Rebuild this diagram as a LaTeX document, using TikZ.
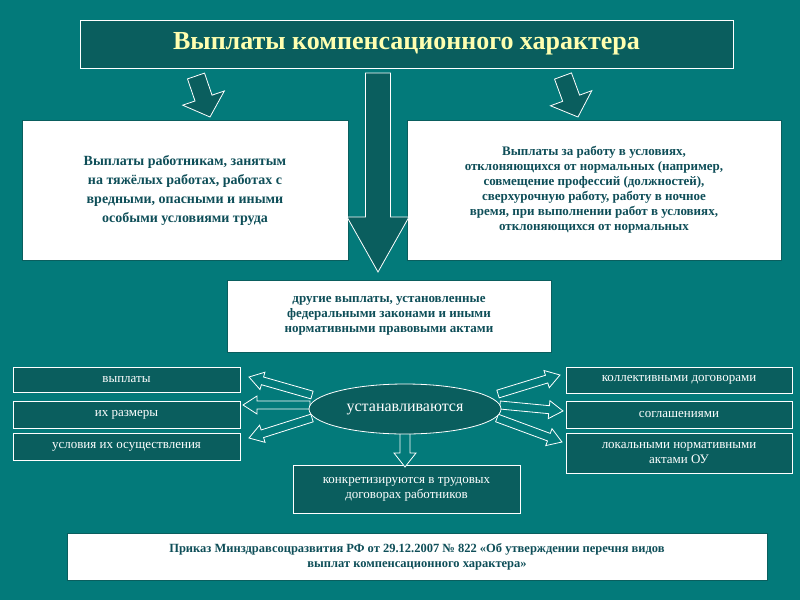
\documentclass[tikz,border=0pt]{standalone}
\usepackage{fontspec}
\setmainfont{Liberation Serif}
\usetikzlibrary{positioning,shapes.geometric}
\definecolor{bgteal}{HTML}{037A7A}
\definecolor{darkteal}{HTML}{0A5E5E}
\definecolor{inkteal}{HTML}{0E4E58}
\definecolor{titleyellow}{HTML}{FFFFB0}
% block arrow: style, x1, y1, x2, y2, half shaft, half head, head length
\newcommand{\barrow}[8]{%
  \pgfmathsetmacro{\dx}{#4-#2}
  \pgfmathsetmacro{\dy}{#5-#3}
  \pgfmathsetmacro{\l}{1.0/veclen(\dx,\dy)}
  \pgfmathsetmacro{\ux}{\dx*\l}
  \pgfmathsetmacro{\uy}{\dy*\l}
  \pgfmathsetmacro{\bx}{#4-\ux*#8}
  \pgfmathsetmacro{\by}{#5-\uy*#8}
  \draw[#1] (#2-\uy*#6,#3+\ux*#6) -- (\bx-\uy*#6,\by+\ux*#6)
    -- (\bx-\uy*#7,\by+\ux*#7) -- (#4,#5) -- (\bx+\uy*#7,\by-\ux*#7)
    -- (\bx+\uy*#6,\by-\ux*#6) -- (#2+\uy*#6,#3-\ux*#6) -- cycle;}
\tikzset{
  whitebox/.style={draw=darkteal,fill=white,text=inkteal,font=\bfseries\fontsize{13}{15}\selectfont,align=center,inner sep=2pt},
  tealbox/.style={draw=white,fill=darkteal,text=white,font=\fontsize{13}{15}\selectfont,align=center,inner sep=2pt},
  bigarr/.style={draw=white,fill=darkteal,thick},
  smallarr/.style={draw=white,fill=bgteal,thick}
}
\begin{document}
\begin{tikzpicture}[x=1pt,y=-1pt]
  \fill[bgteal] (0,0) rectangle (800,600);
  \useasboundingbox (0,0) rectangle (800,600);

  \node[tealbox,minimum width=653,minimum height=48,font=\bfseries\fontsize{26}{30}\selectfont,text=titleyellow] (title) at (406.5,44) {Выплаты компенсационного характера};

  \node[whitebox,minimum width=326,minimum height=140,font=\bfseries\fontsize{14}{19}\selectfont] (heavy) at (185,190)
    {Выплаты работникам, занятым\\на тяжёлых работах, работах с\\вредными, опасными и иными\\особыми условиями труда};
  \node[whitebox,minimum width=374,minimum height=140] (abnorm) at (594,190)
    {Выплаты за работу в условиях,\\отклоняющихся от нормальных (например,\\совмещение профессий (должностей),\\сверхурочную работу, работу в ночное\\время, при выполнении работ в условиях,\\отклоняющихся от нормальных};
  \node[whitebox,minimum width=324,minimum height=72] (other) at (389,316)
    {другие выплаты,  установленные\\федеральными законами и иными\\нормативными правовыми актами};

  \barrow{bigarr}{378}{73}{378}{272}{12.5}{31}{55}
  \barrow{bigarr}{196}{76}{210}{117}{9}{22}{20}
  \barrow{bigarr}{563}{76}{578}{117}{9}{22}{20}

  \node[tealbox,minimum width=227,minimum height=25] (pay) at (126.5,380) {выплаты};
  \node[tealbox,minimum width=227,minimum height=27] (size) at (126.5,414.5) {их размеры};
  \node[tealbox,minimum width=227,minimum height=27] (cond) at (126.5,446.5) {условия их осуществления};
  \node[tealbox,minimum width=226,minimum height=26] (coll) at (679,380) {коллективными договорами};
  \node[tealbox,minimum width=226,minimum height=27] (agree) at (679,414.5) {соглашениями};
  \node[tealbox,minimum width=226,minimum height=40] (local) at (679,453) {локальными нормативными\\актами ОУ};
  \node[tealbox,minimum width=227,minimum height=48] (spec) at (406.5,489) {конкретизируются в трудовых\\договорах работников};

  \barrow{smallarr}{312}{395}{249}{377}{4}{9}{14}
  \barrow{smallarr}{310}{405}{243}{405}{4}{9}{14}
  \barrow{smallarr}{312}{418}{249}{438}{4}{9}{14}
  \barrow{smallarr}{498}{394}{560}{375}{4}{9}{14}
  \barrow{smallarr}{500}{405}{563}{411}{4}{9}{14}
  \barrow{smallarr}{497}{418}{562}{442}{4}{9}{14}
  \barrow{smallarr}{405}{432}{405}{467}{5}{11}{14}

  \node[draw=white,thick,fill=darkteal,ellipse,minimum width=192,minimum height=50,inner sep=0pt,text=white,font=\fontsize{16}{18}\selectfont] (est) at (405,409) {устанавливаются};

  \node[whitebox,minimum width=700,minimum height=47,font=\bfseries\fontsize{12.5}{15}\selectfont] (order) at (417,556.5)
    {Приказ Минздравсоцразвития РФ от 29.12.2007 № 822 «Об утверждении перечня видов\\выплат компенсационного характера»};
\end{tikzpicture}
\end{document}
